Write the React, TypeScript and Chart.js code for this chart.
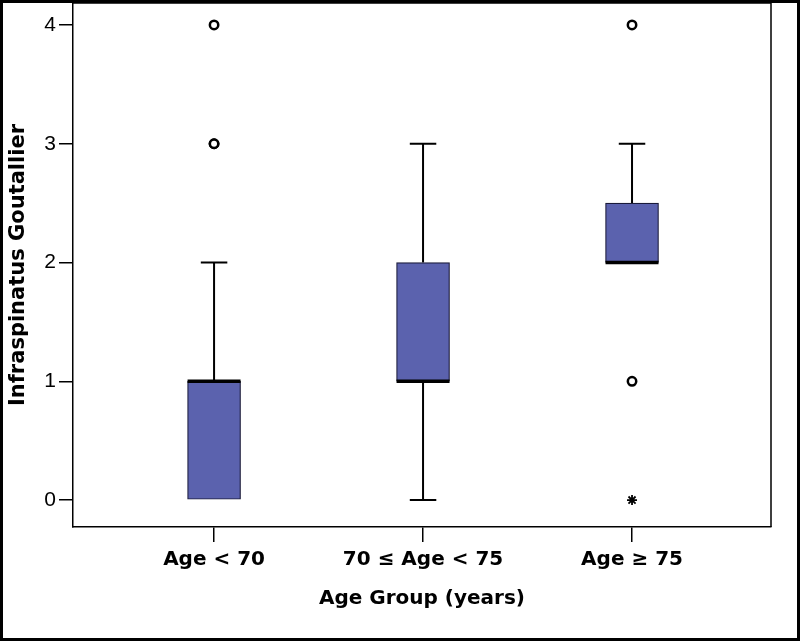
import React, { useEffect, useRef } from "react";
import { Chart, registerables } from "chart.js";

Chart.register(...registerables);

const categories = ["Age < 70", "70 \u2264 Age < 75", "Age \u2265 75"];
const whiskerLow = [0, 0, 2];
const q1 = [0, 1, 2];
const median = [1, 1, 2];
const q3 = [1, 2, 2.5];
const whiskerHigh = [2, 3, 3];
const outlierGroup = [1, 1, 1, 3, 3];
const outlierValue = [3, 3, 4, 1, 4];
const extremeGroup = [3];
const extremeValue = [0];
const yTicks = [0, 1, 2, 3, 4];

const FONT = "'Liberation Sans', Arial, Helvetica, sans-serif";
const BOLD_FONT = "'DejaVu Sans', 'Liberation Sans', Arial, sans-serif";

const boxPlugin = {
  id: "boxWhiskers",
  beforeDatasetsDraw(chart: any) {
    const { ctx } = chart;
    const xs = chart.scales.x;
    const ys = chart.scales.y;
    ctx.save();
    ctx.strokeStyle = "#000";
    ctx.lineWidth = 2;
    for (let i = 0; i < categories.length; i++) {
      const x = xs.getPixelForValue(i + 1);
      const half = 53 / 4;
      const yHi = ys.getPixelForValue(whiskerHigh[i]);
      const yQ3 = ys.getPixelForValue(q3[i]);
      const yLo = ys.getPixelForValue(whiskerLow[i]);
      const yQ1 = ys.getPixelForValue(q1[i]);
      if (whiskerHigh[i] > q3[i]) {
        ctx.beginPath();
        ctx.moveTo(x, yQ3);
        ctx.lineTo(x, yHi);
        ctx.moveTo(x - half, yHi);
        ctx.lineTo(x + half, yHi);
        ctx.stroke();
      }
      if (whiskerLow[i] < q1[i]) {
        ctx.beginPath();
        ctx.moveTo(x, yQ1);
        ctx.lineTo(x, yLo);
        ctx.moveTo(x - half, yLo);
        ctx.lineTo(x + half, yLo);
        ctx.stroke();
      }
    }
    ctx.restore();
  },
  afterDatasetsDraw(chart: any) {
    const { ctx } = chart;
    const xs = chart.scales.x;
    const ys = chart.scales.y;
    ctx.save();
    ctx.strokeStyle = "#000";
    ctx.lineWidth = 3.5;
    for (let i = 0; i < categories.length; i++) {
      const x = xs.getPixelForValue(i + 1);
      const y = ys.getPixelForValue(median[i]);
      ctx.beginPath();
      ctx.moveTo(x - 26.5, y);
      ctx.lineTo(x + 26.5, y);
      ctx.stroke();
    }
    ctx.restore();
  },
};

export default function App() {
  const ref = useRef<HTMLCanvasElement>(null);
  useEffect(() => {
    if (!ref.current) return;
    const chart = new Chart(ref.current, {
      type: "bar",
      data: {
        datasets: [
          {
            type: "bar",
            data: categories.map((_, i) => ({ x: i + 1, y: [q1[i], q3[i]] })) as any,
            backgroundColor: "#5b62ae",
            borderColor: "#1a1a3a",
            borderWidth: 1.2,
            borderSkipped: false,
            barThickness: 53,
            order: 2,
          } as any,
          {
            type: "scatter",
            data: outlierGroup.map((g, i) => ({ x: g, y: outlierValue[i] })),
            pointStyle: "circle",
            radius: 4.2,
            borderWidth: 2.5,
            borderColor: "#000",
            backgroundColor: "#fff",
            order: 1,
          } as any,
          {
            type: "scatter",
            data: extremeGroup.map((g, i) => ({ x: g, y: extremeValue[i] })),
            pointStyle: "star",
            radius: 5,
            borderWidth: 1.8,
            borderColor: "#000",
            backgroundColor: "#000",
            order: 1,
          } as any,
        ],
      },
      options: {
        animation: false,
        responsive: false,
        maintainAspectRatio: false,
        layout: { autoPadding: false, padding: { left: 0, right: 29, top: 3, bottom: 0 } },
        plugins: { legend: { display: false }, tooltip: { enabled: false } },
        scales: {
          x: {
            type: "linear",
            min: 0.325,
            max: 3.665,
            offset: false,
            afterBuildTicks: (scale: any) => {
              scale.ticks = categories.map((_, i) => ({ value: i + 1 }));
            },
            afterFit: (scale: any) => {
              scale.height = 114;
              scale.paddingLeft = 0;
              scale.paddingRight = 0;
            },
            ticks: {
              autoSkip: false,
              maxRotation: 0,
              padding: 6,
              color: "#000",
              font: { family: BOLD_FONT, size: 20, weight: "bold" },
              callback: (v: any) => categories[Math.round(v) - 1] ?? "",
            },
            grid: {
              offset: false,
              drawOnChartArea: false,
              drawTicks: true,
              tickLength: 15,
              color: "#000",
              lineWidth: 1.5,
            },
            border: { display: true, color: "#000", width: 1.5 },
            title: {
              display: true,
              text: "Age Group (years)",
              color: "#000",
              font: { family: BOLD_FONT, size: 20, weight: "bold" },
              padding: { top: 0, bottom: 30 },
            },
          },
          y: {
            type: "linear",
            min: -0.227,
            max: 4.185,
            afterBuildTicks: (scale: any) => {
              scale.ticks = yTicks.map((v) => ({ value: v }));
            },
            afterFit: (scale: any) => {
              scale.width = 73;
              scale.paddingTop = 0;
              scale.paddingBottom = 0;
            },
            ticks: {
              padding: 3,
              color: "#000",
              font: { family: FONT, size: 21 },
            },
            grid: {
              drawOnChartArea: false,
              drawTicks: true,
              tickLength: 14,
              color: "#000",
              lineWidth: 1.5,
            },
            border: { display: true, color: "#000", width: 1.5 },
            title: {
              display: true,
              text: "Infraspinatus Goutallier",
              color: "#000",
              font: { family: BOLD_FONT, size: 21, weight: "bold" },
              padding: { top: 6, bottom: 0 },
            },
          },
        },
      },
      plugins: [
        boxPlugin,
        {
          id: "frame",
          afterDraw(chart: any) {
            const { ctx, chartArea } = chart;
            ctx.save();
            ctx.strokeStyle = "#000";
            ctx.lineWidth = 1.5;
            ctx.beginPath();
            ctx.moveTo(chartArea.left, chartArea.top);
            ctx.lineTo(chartArea.right, chartArea.top);
            ctx.lineTo(chartArea.right, chartArea.bottom);
            ctx.stroke();
            ctx.restore();
          },
        },
      ],
    } as any);
    return () => chart.destroy();
  }, []);

  return (
    <div
      style={{
        position: "fixed",
        left: 0,
        top: 0,
        width: 800,
        height: 641,
        background: "#fff",
      }}
    >
      <canvas ref={ref} width={800} height={641} style={{ display: "block" }} />
      <div
        style={{
          position: "absolute",
          left: 0,
          top: 0,
          width: 800,
          height: 641,
          boxSizing: "border-box",
          border: "3px solid #000",
          pointerEvents: "none",
        }}
      />
    </div>
  );
}
